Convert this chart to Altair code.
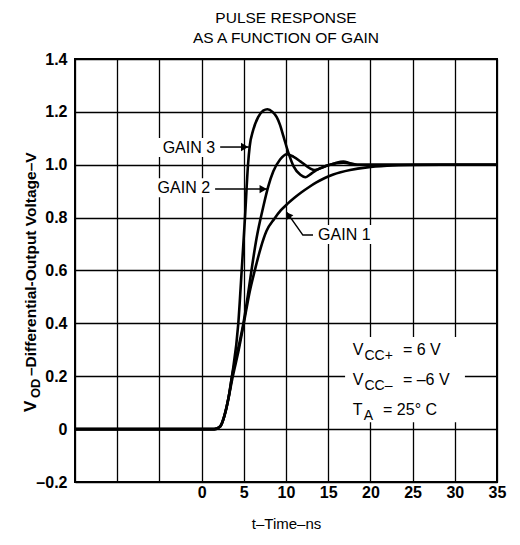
import altair as alt
import pandas as pd

FONT = "Liberation Sans"

# ---- curve data (t in ns, V in volts) ----
t_gain1 = [-15, 1.5, 2.2, 2.7, 3.2, 3.7, 4.4, 5.0, 5.7, 6.3, 7.0, 7.7, 8.6, 9.4, 10.2, 11.0, 11.8, 12.7, 13.6, 14.6, 15.6, 17.6, 19.6, 22, 25, 30, 35]
v_gain1 = [0, 0, 0.01, 0.05, 0.12, 0.2, 0.3, 0.4, 0.52, 0.6, 0.685, 0.75, 0.795, 0.828, 0.853, 0.875, 0.895, 0.915, 0.933, 0.95, 0.963, 0.98, 0.99, 0.996, 0.999, 1.0, 1.0]

t_gain2 = [-15, 1.5, 2.2, 2.7, 3.2, 3.6, 4.3, 4.95, 5.5, 6.0, 6.5, 7.3, 7.9, 8.5, 9.3, 10.1, 10.9, 11.7, 12.8, 13.4, 14.8, 16.0, 16.8, 18.4, 35]
v_gain2 = [0, 0, 0.01, 0.05, 0.12, 0.2, 0.3, 0.4, 0.51, 0.62, 0.72, 0.84, 0.918, 0.975, 1.02, 1.04, 1.03, 1.013, 0.987, 0.98, 0.996, 1.006, 1.008, 1.0, 1.0]

t_gain3 = [-15, 1.5, 2.2, 2.7, 3.2, 3.6, 4.35, 4.75, 5.14, 5.5, 5.7, 6.1, 6.7, 7.3, 7.8, 8.4, 8.9, 9.3, 9.7, 10.3, 10.9, 11.7, 12.3, 12.8, 13.6, 14.8, 15.8, 16.8, 17.6, 18.5, 35]
v_gain3 = [0, 0, 0.01, 0.05, 0.12, 0.2, 0.4, 0.6, 0.8, 1.0, 1.07, 1.13, 1.18, 1.205, 1.21, 1.2, 1.18, 1.15, 1.107, 1.044, 0.994, 0.962, 0.953, 0.962, 0.98, 0.996, 1.006, 1.012, 1.006, 1.0, 1.0]

x_ticks = [-15, -10, -5, 0, 5, 10, 15, 20, 25, 30, 35]
y_ticks = [-0.2, 0, 0.2, 0.4, 0.6, 0.8, 1.0, 1.2, 1.4]

curves = pd.concat([
    pd.DataFrame({"t": t_gain1, "v": v_gain1, "gain": "GAIN 1"}),
    pd.DataFrame({"t": t_gain2, "v": v_gain2, "gain": "GAIN 2"}),
    pd.DataFrame({"t": t_gain3, "v": v_gain3, "gain": "GAIN 3"}),
])

# ---- annotation data (data units) ----
box_t1 = [-6.1, -6.7, 13.6, 17.0]
box_t2 = [1.8, 1.2, 21.1, 31.2]
box_v1 = [1.101, 0.949, 0.772, 0.348]
box_v2 = [1.029, 0.877, 0.70, 0.026]
boxes = pd.DataFrame({"t1": box_t1, "t2": box_t2, "v1": box_v1, "v2": box_v2})

arrow_id = ["a3", "a3", "a2", "a2", "a1", "a1", "a1"]
arrow_t = [2.2, 5.6, 1.6, 7.8, 10.1, 12.0, 13.2]
arrow_v = [1.067, 1.067, 0.908, 0.908, 0.82, 0.734, 0.734]
arrows = pd.DataFrame({"id": arrow_id, "t": arrow_t, "v": arrow_v, "o": list(range(7))})

head_t = [5.1, 7.3]
head_v = [1.067, 0.908]
heads_r = pd.DataFrame({"t": head_t, "v": head_v})
heads_g1 = pd.DataFrame({"t": [10.35], "v": [0.807]})

gain_right_text = ["GAIN 3", "GAIN 2"]
gain_right_t = [1.6, 1.0]
gain_right_v = [1.044, 0.893]
gain_left_text = ["GAIN 1"]
gain_left_t = [13.8]
gain_left_v = [0.715]

main_text = ["V", "= 6 V", "V", "= \u20136 V", "T", "= 25\u00b0 C"]
main_t = [17.9, 23.85, 17.9, 23.85, 17.9, 21.5]
main_v = [0.28, 0.28, 0.166, 0.166, 0.053, 0.053]
sub_text = ["CC+", "CC\u2013", "A"]
sub_t = [19.3, 19.3, 19.2]
sub_v = [0.261, 0.148, 0.034]

xs = alt.Scale(domain=[-15, 35], nice=False, zero=False)
ys = alt.Scale(domain=[-0.2, 1.4], nice=False, zero=False)

x_axis = alt.Axis(values=x_ticks, labelExpr="datum.value >= 0 ? datum.label : ''",
                  title="t\u2013Time\u2013ns", grid=True, ticks=False, domain=False,
                  labelFontSize=16, labelFontWeight="bold", labelFont=FONT, labelColor="black",
                  labelPadding=2, titleFontSize=15, titleFontWeight="normal", titleFont=FONT,
                  titleColor="black", titlePadding=16, gridColor="black", gridWidth=1.3,
                  gridOpacity=1, labelFlush=False)
y_axis = alt.Axis(values=y_ticks,
                  labelExpr="datum.value == 0 ? '0' : (datum.value < 0 ? '\u2013' + format(-datum.value, '.1f') : format(datum.value, '.1f'))",
                  title=None, grid=True, ticks=False, domain=False,
                  labelFontSize=16, labelFontWeight="bold", labelFont=FONT, labelColor="black",
                  labelPadding=8, gridColor="black", gridWidth=1.3, gridOpacity=1, labelFlush=False)

X = lambda f: alt.X(f, type="quantitative", scale=xs, axis=x_axis)
Y = lambda f: alt.Y(f, type="quantitative", scale=ys, axis=y_axis)

curve_layer = alt.Chart(curves).mark_line(color="black", strokeWidth=2.6, interpolate="monotone").encode(
    x=X("t"), y=Y("v"), detail="gain:N",
)

box_layer = alt.Chart(boxes).mark_rect(color="white").encode(
    x=X("t1"), x2="t2", y=Y("v1"), y2="v2")

arrow_layer = alt.Chart(arrows).mark_line(color="black", strokeWidth=1.5).encode(
    x=X("t"), y=Y("v"), detail="id:N", order="o:Q")

head_r_layer = alt.Chart(heads_r).mark_point(shape="triangle-right", filled=True, color="black",
                                             size=70, opacity=1).encode(x=X("t"), y=Y("v"))
head_g1_layer = alt.Chart(heads_g1).mark_point(shape="triangle", angle=324, filled=True, color="black",
                                               size=60, opacity=1).encode(x=X("t"), y=Y("v"))

gr = pd.DataFrame({"txt": gain_right_text, "t": gain_right_t, "v": gain_right_v})
gl = pd.DataFrame({"txt": gain_left_text, "t": gain_left_t, "v": gain_left_v})
gain_r_layer = alt.Chart(gr).mark_text(align="right", baseline="alphabetic", fontSize=16, font=FONT,
                                       color="black").encode(x=X("t"), y=Y("v"), text="txt:N")
gain_l_layer = alt.Chart(gl).mark_text(align="left", baseline="alphabetic", fontSize=16, font=FONT,
                                       color="black").encode(x=X("t"), y=Y("v"), text="txt:N")

mt = pd.DataFrame({"txt": main_text, "t": main_t, "v": main_v})
st = pd.DataFrame({"txt": sub_text, "t": sub_t, "v": sub_v})
main_layer = alt.Chart(mt).mark_text(align="left", baseline="alphabetic", fontSize=16, font=FONT,
                                     color="black").encode(x=X("t"), y=Y("v"), text="txt:N")
sub_layer = alt.Chart(st).mark_text(align="left", baseline="alphabetic", fontSize=14, font=FONT,
                                    color="black").encode(x=X("t"), y=Y("v"), text="txt:N")

# rotated y-axis title with subscript
yt = pd.DataFrame({"txt": ["V", "OD", "\u2013Differential-Output Voltage\u2013V"],
                   "px": [-39, -35, -39], "py": [353, 339, 317], "fs": [17, 13, 15.5]})
ytitle_layer = alt.Chart(yt).mark_text(align="left", baseline="alphabetic", angle=270, font=FONT,
                                       fontWeight="bold", color="black").encode(
    x=alt.X("px:Q", scale=None), y=alt.Y("py:Q", scale=None), text="txt:N",
    size=alt.Size("fs:Q", scale=None))

chart = alt.layer(
    curve_layer, box_layer, arrow_layer, head_r_layer, head_g1_layer,
    gain_r_layer, gain_l_layer, main_layer, sub_layer, ytitle_layer,
).properties(
    width=422, height=423,
    title=alt.TitleParams(["PULSE RESPONSE", "AS A FUNCTION OF GAIN"], fontSize=15.5,
                          fontWeight="normal", font=FONT, color="black", anchor="middle",
                          frame="group", offset=5, lineHeight=20),
    autosize=alt.AutoSizeParams(type="none"),
    padding={"left": 67, "top": 51, "right": 15, "bottom": 55},
).configure(background="white").configure_view(stroke="black", strokeWidth=2)

chart.save("out.html", embed_options={"renderer": "svg", "actions": False})
